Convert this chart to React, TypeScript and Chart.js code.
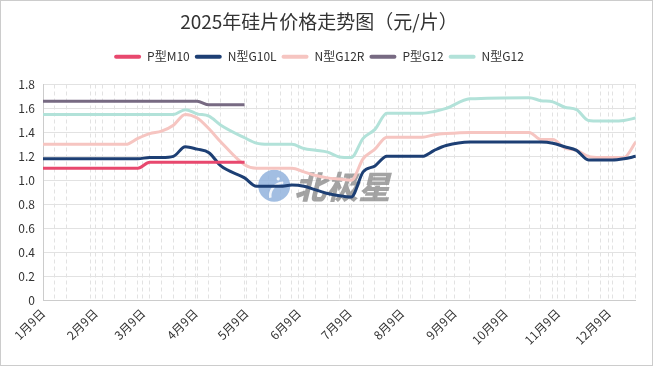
import React, { useEffect, useRef } from 'react';
import { Chart, registerables } from 'chart.js';

Chart.register(...registerables);

// Weekly quotation dates (2025, month-day)
const dates = [
  '1-9', '1-16', '1-23', '2-6', '2-13', '2-20', '2-27', '3-6', '3-13', '3-20', '3-27',
  '4-3', '4-10', '4-17', '4-24', '5-8', '5-15', '5-22', '5-29', '6-5', '6-12', '6-19',
  '6-26', '7-3', '7-10', '7-17', '7-24', '7-31', '8-7', '8-14', '8-21', '8-28', '9-4',
  '9-18', '10-23', '10-30', '11-6', '11-13', '11-20', '11-27', '12-4', '12-11', '12-18', '12-25',
];

// Month tick labels on the x axis
const monthTicks = ['1-9', '2-9', '3-9', '4-9', '5-9', '6-9', '7-9', '8-9', '9-9', '10-9', '11-9', '12-9'];
const monthLabels = ['1月9日', '2月9日', '3月9日', '4月9日', '5月9日', '6月9日', '7月9日', '8月9日', '9月9日', '10月9日', '11月9日', '12月9日'];

const seriesNames = ['P型M10', 'N型G10L', 'N型G12R', 'P型G12', 'N型G12'];

const pM10 = [
  1.10, 1.10, 1.10, 1.10, 1.10, 1.10, 1.10, 1.10, 1.15, 1.15, 1.15,
  1.15, 1.15, 1.15, 1.15, 1.15, null, null, null, null, null, null,
  null, null, null, null, null, null, null, null, null, null, null,
  null, null, null, null, null, null, null, null, null, null, null,
];

const nG10L = [
  1.18, 1.18, 1.18, 1.18, 1.18, 1.18, 1.18, 1.18, 1.19, 1.19, 1.20,
  1.28, 1.26, 1.23, 1.12, 1.02, 0.95, 0.95, 0.95, 0.96, 0.95, 0.92,
  0.89, 0.87, 0.86, 1.07, 1.12, 1.20, 1.20, 1.20, 1.20, 1.25, 1.29,
  1.32, 1.32, 1.32, 1.31, 1.28, 1.25, 1.17, 1.17, 1.17, 1.18, 1.20,
];

const nG12R = [
  1.30, 1.30, 1.30, 1.30, 1.30, 1.30, 1.30, 1.35, 1.39, 1.41, 1.46,
  1.55, 1.52, 1.43, 1.32, 1.13, 1.10, 1.10, 1.10, 1.10, 1.07, 1.04,
  1.02, 1.01, 1.00, 1.18, 1.26, 1.36, 1.36, 1.36, 1.36, 1.38, 1.39,
  1.40, 1.40, 1.34, 1.34, 1.27, 1.25, 1.20, 1.19, 1.19, 1.19, 1.32,
];

const pG12 = [
  1.66, 1.66, 1.66, 1.66, 1.66, 1.66, 1.66, 1.66, 1.66, 1.66, 1.66,
  1.66, 1.66, 1.63, 1.63, 1.63, null, null, null, null, null, null,
  null, null, null, null, null, null, null, null, null, null, null,
  null, null, null, null, null, null, null, null, null, null, null,
];

const nG12 = [
  1.55, 1.55, 1.55, 1.55, 1.55, 1.55, 1.55, 1.55, 1.55, 1.55, 1.55,
  1.59, 1.555, 1.535, 1.46, 1.355, 1.31, 1.30, 1.30, 1.30, 1.265, 1.25,
  1.235, 1.195, 1.19, 1.35, 1.425, 1.56, 1.56, 1.56, 1.56, 1.575, 1.60,
  1.68, 1.69, 1.665, 1.655, 1.61, 1.59, 1.50, 1.495, 1.495, 1.50, 1.52,
];

const yTicks = { min: 0, max: 1.8, step: 0.2 };

const colors = ['#e8486e', '#1d3f74', '#f6c5c1', '#776a82', '#b2e2d9'];

const FONT = "'Noto Sans CJK SC', 'Noto Sans', sans-serif";

const dayOf = (md: string) => {
  const [m, d] = md.split('-').map(Number);
  return Math.round((Date.UTC(2025, m - 1, d) - Date.UTC(2025, 0, 9)) / 86400000);
};

const watermark = {
  id: 'watermark',
  beforeDatasetsDraw(chart: any) {
    const { ctx, chartArea } = chart;
    const cx = chartArea.left + (chartArea.right - chartArea.left) * 0.39;
    const cy = chartArea.top + (chartArea.bottom - chartArea.top) * 0.47;
    ctx.save();
    ctx.globalAlpha = 0.85;
    ctx.fillStyle = '#92b3dd';
    ctx.beginPath();
    ctx.arc(cx, cy, 16, 0, Math.PI * 2);
    ctx.fill();
    ctx.strokeStyle = '#ffffff';
    ctx.lineWidth = 2.5;
    ctx.beginPath();
    ctx.arc(cx + 9, cy + 10, 13, Math.PI * 0.95, Math.PI * 1.45);
    ctx.stroke();
    ctx.fillStyle = '#ffffff';
    ctx.beginPath();
    ctx.arc(cx + 4, cy - 7, 1.6, 0, Math.PI * 2);
    ctx.arc(cx + 8, cy - 3, 1.2, 0, Math.PI * 2);
    ctx.fill();
    ctx.globalAlpha = 0.8;
    ctx.fillStyle = '#8c8c8c';
    ctx.font = `italic 900 32px ${FONT}`;
    ctx.textBaseline = 'middle';
    ctx.textAlign = 'left';
    ctx.fillText('北极星', cx + 20, cy + 1);
    ctx.restore();
  },
};

export default function App() {
  const canvasRef = useRef<HTMLCanvasElement | null>(null);

  useEffect(() => {
    if (!canvasRef.current) return;
    const xs = dates.map(dayOf);
    const monthDays = monthTicks.map(dayOf);
    const tickDays = Array.from(new Set([...xs, ...monthDays])).sort((a, b) => a - b);
    const allSeries = [pM10, nG10L, nG12R, pG12, nG12];

    const datasets = allSeries.map((vals, i) => ({
      label: seriesNames[i],
      data: vals
        .map((v, j) => ({ x: xs[j], y: v }))
        .filter((p) => p.y !== null),
      borderColor: colors[i],
      backgroundColor: colors[i],
      borderWidth: 3,
      pointRadius: 0,
      cubicInterpolationMode: 'monotone' as const,
      fill: false,
    }));

    const chart = new Chart(canvasRef.current, {
      type: 'line',
      data: { datasets },
      plugins: [watermark],
      options: {
        animation: false,
        responsive: true,
        maintainAspectRatio: false,
        layout: { padding: { left: 0, right: 15, top: 0, bottom: 0 } },
        plugins: {
          tooltip: { enabled: false },
          title: {
            display: true,
            text: '2025年硅片价格走势图（元/片）',
            color: '#333333',
            font: { family: FONT, size: 19, weight: 'normal' },
            padding: { top: 9, bottom: 13 },
          },
          subtitle: {
            display: true,
            text: '',
            weight: 500,
            font: { size: 1 },
            padding: { top: 0, bottom: 10.5 },
          } as any,
          legend: {
            display: true,
            position: 'top',
            labels: {
              boxWidth: 27,
              boxHeight: 4,
              padding: 5,
              color: '#333333',
              font: { family: FONT, size: 12 },
              useBorderRadius: true,
              borderRadius: 2,
              generateLabels: (c: any) =>
                (Chart.defaults.plugins.legend.labels.generateLabels as any)(c).map((l: any) => ({
                  ...l,
                  lineWidth: 0,
                  fillStyle: l.strokeStyle,
                })),
            },
          },
        },
        scales: {
          x: {
            type: 'linear',
            min: xs[0],
            max: xs[xs.length - 1],
            afterBuildTicks: (scale: any) => {
              scale.ticks = tickDays.map((v) => ({ value: v }));
            },
            afterFit: (scale: any) => {
              scale.height = 65;
            },
            ticks: {
              autoSkip: false,
              minRotation: 45,
              maxRotation: 45,
              padding: 6,
              color: '#333333',
              font: { family: FONT, size: 12 },
              callback: (v: any) => {
                const k = monthDays.indexOf(Number(v));
                return k >= 0 ? monthLabels[k] : '';
              },
            },
            grid: { color: '#e2e2e2', drawTicks: false, lineWidth: 1 },
            border: { color: '#cccccc', dash: [4, 3] },
          },
          y: {
            min: yTicks.min,
            max: yTicks.max,
            afterFit: (scale: any) => {
              scale.width = 42;
            },
            ticks: {
              stepSize: yTicks.step,
              padding: 8,
              color: '#333333',
              font: { family: FONT, size: 12 },
            },
            grid: { color: '#e2e2e2', drawTicks: false },
            border: { color: '#cccccc' },
          },
        },
      },
    });
    return () => chart.destroy();
  }, []);

  return (
    <div
      style={{
        position: 'absolute',
        left: 0,
        top: 0,
        width: 653,
        height: 366,
        boxSizing: 'border-box',
        border: '1px solid #cccccc',
        background: '#ffffff',
      }}
    >
      <div style={{ position: 'relative', width: 651, height: 364 }}>
        <canvas ref={canvasRef} />
      </div>
    </div>
  );
}
